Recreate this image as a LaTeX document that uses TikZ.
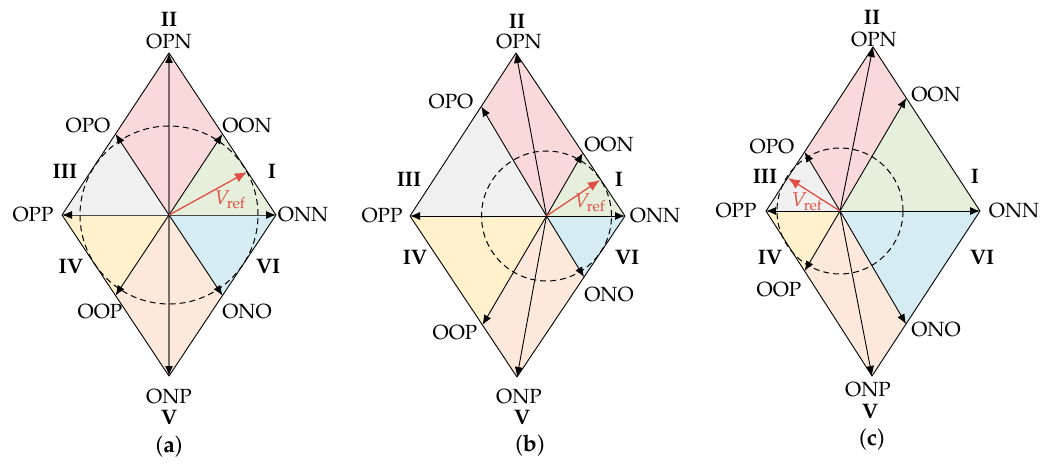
\documentclass[tikz,border=0pt]{standalone}
\usepackage[T1]{fontenc}
\usepackage{mathpazo}
\usetikzlibrary{calc,arrows.meta}
\definecolor{cI}{HTML}{E6EFDC}
\definecolor{cII}{HTML}{F9D9D9}
\definecolor{cIII}{HTML}{F0F0F0}
\definecolor{cIV}{HTML}{FFF1CC}
\definecolor{cV}{HTML}{FDE9DB}
\definecolor{cVI}{HTML}{D4ECF2}
\definecolor{refred}{HTML}{E04F43}
\definecolor{avert}{HTML}{7A6B6B}
\definecolor{ahor}{HTML}{4A4A4A}
\tikzset{
 edgeline/.style={black, line width=0.9pt, line join=round},
 vec/.style={black, line width=0.9pt, -{Latex[length=10pt,width=8pt,color=black]}},
 circ/.style={black, line width=1pt, dash pattern=on 6pt off 4pt},
 refvec/.style={draw=refred, line width=1.3pt, -{Latex[length=12pt,width=10pt,color=refred]}},
 lab/.style={font=\fontsize{20.5}{24}\selectfont, inner sep=0pt},
 num/.style={font=\fontsize{21}{24}\selectfont\bfseries, inner sep=0pt},
 capt/.style={font=\fontsize{23}{26}\selectfont, inner sep=0pt},
 reflab/.style={text=refred, font=\fontsize{20}{24}\selectfont, inner sep=0pt},
}
\begin{document}
\begin{tikzpicture}[x=1pt,y=-1pt]
\useasboundingbox (0,0) rectangle (1051,465);
% ---------- panel (a) coordinates
\coordinate (aC) at (169,215);
\coordinate (aL) at (62,215);
\coordinate (aT) at (169,53);
\coordinate (aR) at (276,215);
\coordinate (aB) at (169,376);
\coordinate (aOPO) at ($(aL)!0.5!(aT)$);
\coordinate (aOON) at ($(aT)!0.5!(aR)$);
\coordinate (aONO) at ($(aR)!0.5!(aB)$);
\coordinate (aOOP) at ($(aL)!0.5!(aB)$);
\coordinate (aV) at (247,172);
% ---------- panel (b) coordinates
\coordinate (bC) at (546.5,216);
\coordinate (bL) at (410,216);
\coordinate (bT) at (516,53);
\coordinate (bR) at (625,216);
\coordinate (bB) at (517,377);
\coordinate (bOPO) at ($(bL)!0.672!(bT)$);
\coordinate (bOON) at ($(bT)!0.613!(bR)$);
\coordinate (bONO) at ($(bR)!0.379!(bB)$);
\coordinate (bOOP) at ($(bL)!0.677!(bB)$);
\coordinate (bV) at (600,180);
% ---------- panel (c) coordinates
\coordinate (cC) at (840,211);
\coordinate (cL) at (766,211);
\coordinate (cT) at (873,47);
\coordinate (cR) at (980,211);
\coordinate (cB) at (872,376);
\coordinate (cOPO) at ($(cL)!0.36!(cT)$);
\coordinate (cOON) at ($(cT)!0.311!(cR)$);
\coordinate (cONO) at ($(cR)!0.685!(cB)$);
\coordinate (cOOP) at ($(cL)!0.364!(cB)$);
\coordinate (cV) at (788,178);
% ---------- sector fills
\foreach \p in {a,b,c}{
 \fill[cI] (\p C) -- (\p OON) -- (\p R) -- cycle;
 \fill[cII] (\p C) -- (\p OPO) -- (\p T) -- (\p OON) -- cycle;
 \fill[cIII] (\p C) -- (\p L) -- (\p OPO) -- cycle;
 \fill[cIV] (\p C) -- (\p L) -- (\p OOP) -- cycle;
 \fill[cV] (\p C) -- (\p OOP) -- (\p B) -- (\p ONO) -- cycle;
 \fill[cVI] (\p C) -- (\p R) -- (\p ONO) -- cycle;
 \draw[edgeline] (\p L) -- (\p T) -- (\p R) -- (\p B) -- cycle;
}
% ---------- vectors
\draw[vec, draw=avert, line width=1.4pt] (aC) -- (aT);
\draw[vec, draw=avert, line width=1.4pt] (aC) -- (aB);
\draw[vec, draw=ahor] (aC) -- (aL);
\draw[vec, draw=ahor] (aC) -- (aR);
\foreach \p in {b,c}{
 \draw[vec] (\p C) -- (\p T);
 \draw[vec] (\p C) -- (\p B);
 \draw[vec] (\p C) -- (\p L);
 \draw[vec] (\p C) -- (\p R);
}
\foreach \p in {a,b,c}{
 \draw[vec] (\p C) -- (\p OPO);
 \draw[vec] (\p C) -- (\p OON);
 \draw[vec] (\p C) -- (\p ONO);
 \draw[vec] (\p C) -- (\p OOP);
}
% ---------- dashed circles
\draw[circ] (aC) circle[radius=89pt];
\draw[circ] (bC) circle[radius=65pt];
\draw[circ] (cC) circle[radius=63pt];
% ---------- reference vectors
\foreach \p in {a,b,c}{
 \draw[refvec] (\p C) -- (\p V);
}
% ---------- labels (a)
\node[num] (aII) at (169,20) {II};
\node[lab] (aOPNl) at (169,42) {OPN};
\node[lab] (aOPOl) at (88,126) {OPO};
\node[lab] (aOONl) at (247,126) {OON};
\node[num] (aIII) at (65,172) {III};
\node[num] (aI) at (272,172) {I};
\node[lab] (aOPPl) at (33,215) {OPP};
\node[lab] (aONNl) at (303,215) {ONN};
\node[num] (aIV) at (71,267) {IV};
\node[num] (aVI) at (268,267) {VI};
\node[lab] (aOOPl) at (100,312) {OOP};
\node[lab] (aONOl) at (247,312) {ONO};
\node[lab] (aONPl) at (169,397) {ONP};
\node[num] (aVn) at (169,418) {V};
\node[capt] (acap) at (169,447) {(\textbf{a})};
\node[reflab] (aVl) at (230,200) {$V_{\mathrm{ref}}$};
% ---------- labels (b)
\node[num] (bII) at (517,22) {II};
\node[lab] (bOPNl) at (519,42) {OPN};
\node[lab] (bOPOl) at (451,102) {OPO};
\node[lab] (bOONl) at (609,145) {OON};
\node[num] (bIII) at (409,180) {III};
\node[num] (bI) at (619,180) {I};
\node[lab] (bOPPl) at (382,216) {OPP};
\node[lab] (bONNl) at (655,216) {ONN};
\node[num] (bIV) at (415,258) {IV};
\node[num] (bVI) at (627,258) {VI};
\node[lab] (bONOl) at (609,295) {ONO};
\node[lab] (bOOPl) at (455,333) {OOP};
\node[lab] (bONPl) at (519,397) {ONP};
\node[num] (bVn) at (522,418) {V};
\node[capt] (bcap) at (530,446) {(\textbf{b})};
\node[reflab] (bVl) at (590,203) {$V_{\mathrm{ref}}$};
% ---------- labels (c)
\node[num] (cII) at (872,18) {II};
\node[lab] (cOPNl) at (874,40) {OPN};
\node[lab] (cOONl) at (936,95) {OON};
\node[lab] (cOPOl) at (772,147) {OPO};
\node[num] (cIII) at (765,177) {III};
\node[num] (cI) at (975,177) {I};
\node[lab] (cOPPl) at (736,211) {OPP};
\node[lab] (cONNl) at (1014,211) {ONN};
\node[num] (cIV) at (770,258) {IV};
\node[num] (cVI) at (982,258) {VI};
\node[lab] (cOOPl) at (779,290) {OOP};
\node[lab] (cONOl) at (936,330) {ONO};
\node[lab] (cONPl) at (868,390) {ONP};
\node[num] (cVn) at (870,412) {V};
\node[capt] (ccap) at (872,440) {(\textbf{c})};
\node[reflab] (cVl) at (807,202) {$V_{\mathrm{ref}}$};
\end{tikzpicture}
\end{document}
